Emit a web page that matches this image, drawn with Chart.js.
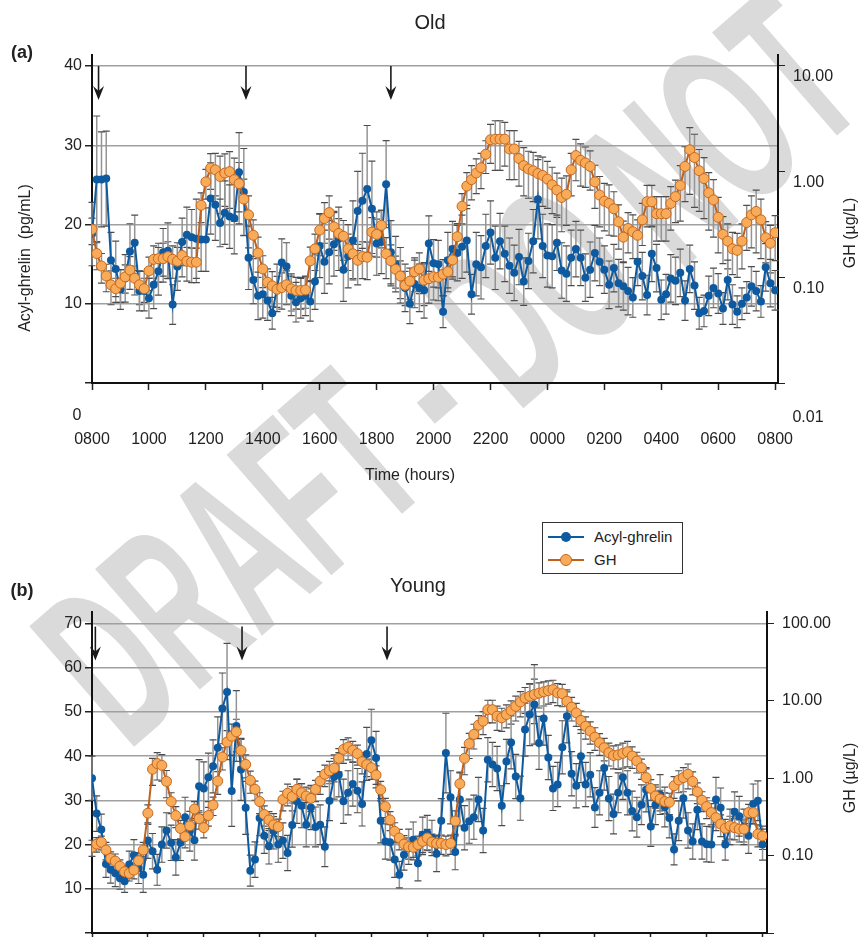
<!DOCTYPE html>
<html>
<head>
<meta charset="utf-8">
<script src="https://cdn.jsdelivr.net/npm/chart.js@4.4.1/dist/chart.umd.min.js"></script>
<style>
  body { margin: 0; width: 861px; height: 937px; overflow: hidden; background: #fff; position: relative;
         font-family: 'Liberation Sans', Arial, sans-serif; color: #222; }
  .c { position: absolute; transform: translate(-50%, -50%); white-space: nowrap; z-index: 2; }
  .v { position: absolute; transform: translate(-50%, -50%) rotate(-90deg); white-space: nowrap; z-index: 2; font-size: 16px; }
  .panel { position: absolute; left: 0; z-index: 1; }
  #wm { position: absolute; left: 0; top: 0; z-index: 0; }
  #legend { position: absolute; left: 542px; top: 522px; width: 139px; height: 50px; border: 1px solid #333;
            background: #fff; z-index: 2; font-size: 15px; }
  .row { position: absolute; left: 5px; width: 130px; height: 20px; white-space: nowrap; }
  .row .ln { position: absolute; left: 0; top: 9px; width: 36px; height: 2px; }
  .row .dot { position: absolute; border-radius: 50%; }
  .row span { position: absolute; left: 46px; top: 1px; }
</style>
</head>
<body>
<svg id="wm" width="861" height="937">
  <text transform="translate(128,752) rotate(-41) scale(0.52,1)" font-family="Liberation Sans, Arial, sans-serif"
        font-weight="bold" font-size="232" fill="#dadada">DRAFT - DO NOT</text>
</svg>

<div class="c" style="left:430px; top:22px; font-size:20px;">Old</div>
<div class="c" style="left:22px; top:52px; font-size:18px; font-weight:bold;">(a)</div>
<div class="v" style="left:25px; top:258px;">Acyl-ghrelin&nbsp;&nbsp;(pg/mL)</div>
<div class="v" style="left:850px; top:233px;">GH (µg/L)</div>
<div class="c" style="left:77px; top:415px; font-size:16px;">0</div>
<div class="c" style="left:808px; top:417px; font-size:16px;">0.01</div>
<div class="c" style="left:410px; top:475px; font-size:16px;">Time (hours)</div>

<div id="legend">
  <div class="row" style="top:4px;"><div class="ln" style="background:#0e5aa0"></div>
    <div class="dot" style="left:13px; top:5px; width:10px; height:10px; background:#0e5aa0"></div><span>Acyl-ghrelin</span></div>
  <div class="row" style="top:27px;"><div class="ln" style="background:#c0601b"></div>
    <div class="dot" style="left:12px; top:4px; width:10px; height:10px; background:#f8ab58; border:1px solid #c8671e"></div><span>GH</span></div>
</div>

<div class="c" style="left:418px; top:585px; font-size:20px;">Young</div>
<div class="c" style="left:22px; top:590px; font-size:18px; font-weight:bold;">(b)</div>
<div class="v" style="left:850px; top:778px;">GH (µg/L)</div>

<div class="panel" style="top:0;"><canvas id="chartA" width="861" height="470"></canvas></div>
<div class="panel" style="top:560px;"><canvas id="chartB" width="861" height="430"></canvas></div>

<script>
// sampling every 10 min, hours after 0800
const times = Array.from({ length: 145 }, (_, i) => i / 6);
const tickHours = [0, 2, 4, 6, 8, 10, 12, 14, 16, 18, 20, 22, 24];
const tickLabels = ['0800', '1000', '1200', '1400', '1600', '1800', '2000', '2200', '0000', '0200', '0400', '0600', '0800'];
const mealsOld = [0.23, 5.41, 10.5];
const mealsYoung = [0.12, 5.37, 10.56];

// (a) Old - acyl-ghrelin pg/mL
const ghrelinOld = [
  18.8, 25.7, 25.7, 25.8, 15.5, 14.4, 11.8, 13.2, 16.6, 17.7,
  11.6, 11.6, 10.7, 12.4, 14.1, 16.5, 16.7, 9.9, 14.7, 17.8,
  18.7, 18.4, 18.2, 18.1, 18.1, 23.3, 22.5, 20.2, 21.5, 21.0,
  20.8, 26.6, 24.1, 15.8, 13.0, 11.0, 11.2, 10.4, 8.8, 12.0,
  15.2, 14.7, 11.0, 10.2, 10.7, 11.0, 10.3, 12.8, 17.3, 15.3,
  16.5, 17.5, 18.2, 14.3, 16.0, 18.0, 21.7, 23.0, 24.5, 22.0,
  17.6, 17.8, 25.1, 16.5, 15.0, 13.6, 12.0, 10.0, 12.5, 12.0,
  11.7, 17.6, 15.1, 15.0, 9.0, 15.5, 16.9, 16.4, 17.2, 18.0,
  11.2, 15.0, 14.6, 17.3, 19.0, 15.8, 17.9, 16.3, 14.8, 13.9,
  15.9, 12.8, 15.4, 17.9, 23.2, 17.3, 16.1, 16.0, 17.7, 14.2,
  13.8, 15.8, 16.9, 15.8, 13.3, 14.3, 16.4, 15.3, 14.3, 12.4,
  14.5, 12.6, 12.2, 11.6, 10.8, 15.3, 13.5, 11.1, 16.3, 14.5,
  10.5, 11.2, 13.2, 12.9, 13.9, 10.4, 14.4, 12.3, 8.8, 9.1,
  11.0, 12.0, 11.3, 9.4, 13.0, 9.9, 9.0, 10.0, 10.8, 12.2,
  11.6, 10.3, 14.6, 12.6, 11.7
];
const ghrelinOldErr = [
  4, 8, 6, 6, 3.5, 3.5, 2.5, 3, 3.5, 3.5,
  2.5, 2.5, 2.5, 3, 3, 3, 3.5, 2.5, 3, 3,
  3.5, 3.5, 5, 4, 4, 4.5, 4.5, 3, 4, 4,
  4.5, 5, 5.5, 4, 3, 3, 3, 2.5, 2, 3,
  3, 3, 2.5, 2.5, 2.5, 2.5, 2.5, 3.5, 4, 4,
  4, 4, 4, 4, 4, 5, 5, 6, 8, 6,
  4, 4, 5.5, 4, 3.5, 3.5, 3, 2.5, 3, 3,
  3.5, 3.5, 3, 3, 2, 3.5, 3.5, 3.5, 4, 4,
  2.5, 4, 4, 4, 4, 4, 3.5, 3.5, 3.5, 3.5,
  3.5, 3, 3.5, 4, 5, 4, 4, 4, 3.5, 3.5,
  3.5, 3.5, 3.5, 3.5, 3, 3.5, 3.5, 3, 3, 3,
  3, 3, 3, 3, 2.5, 3, 3, 2.5, 3.5, 3,
  2.5, 2.5, 3, 3, 3, 2.5, 3, 3, 2, 2,
  2.5, 2.5, 2.5, 2, 2.5, 2.5, 2, 2, 2, 2.5,
  2.5, 2, 3, 3, 2.5
];
// (a) Old - GH ug/L
const ghOld = [
  0.284, 0.168, 0.128, 0.103, 0.085, 0.078, 0.088, 0.101, 0.117, 0.098,
  0.085, 0.078, 0.115, 0.148, 0.150, 0.150, 0.157, 0.148, 0.142, 0.161,
  0.142, 0.139, 0.139, 0.48, 0.80, 1.08, 1.04, 0.90, 0.97, 1.00,
  0.84, 0.77, 0.55, 0.39, 0.25, 0.17, 0.12, 0.09, 0.083, 0.077,
  0.080, 0.085, 0.078, 0.075, 0.075, 0.076, 0.143, 0.186, 0.28, 0.36,
  0.41, 0.30, 0.26, 0.245, 0.186, 0.167, 0.145, 0.157, 0.155, 0.268,
  0.255, 0.31, 0.167, 0.143, 0.119, 0.103, 0.084, 0.092, 0.113, 0.12,
  0.094, 0.097, 0.101, 0.10, 0.107, 0.113, 0.146, 0.242, 0.47, 0.73,
  0.84, 0.97, 1.09, 1.46, 2.0, 2.03, 2.03, 2.03, 1.64, 1.64,
  1.33, 1.14, 1.06, 1.02, 0.96, 0.92, 0.85, 0.75, 0.67, 0.57,
  0.61, 1.04, 1.42, 1.28, 1.21, 1.12, 0.80, 0.60, 0.525, 0.50,
  0.445, 0.335, 0.24, 0.29, 0.27, 0.25, 0.35, 0.52, 0.52, 0.40,
  0.40, 0.40, 0.50, 0.58, 0.74, 1.12, 1.61, 1.36, 1.02, 0.86,
  0.63, 0.54, 0.37, 0.255, 0.22, 0.186, 0.18, 0.22, 0.33, 0.39,
  0.42, 0.35, 0.237, 0.21, 0.264
];
const ghOldErr = [
  0.08, 0.05, 0.04, 0.03, 0.03, 0.02, 0.03, 0.03, 0.04, 0.03,
  0.03, 0.02, 0.04, 0.05, 0.06, 0.06, 0.06, 0.05, 0.05, 0.06,
  0.05, 0.05, 0.05, 0.15, 0.25, 0.4, 0.45, 0.5, 0.5, 0.55,
  0.5, 0.45, 0.3, 0.2, 0.1, 0.07, 0.04, 0.03, 0.03, 0.025,
  0.03, 0.03, 0.03, 0.025, 0.025, 0.025, 0.05, 0.07, 0.12, 0.15,
  0.18, 0.12, 0.1, 0.1, 0.07, 0.07, 0.06, 0.06, 0.06, 0.1,
  0.1, 0.12, 0.07, 0.06, 0.04, 0.04, 0.03, 0.03, 0.04, 0.05,
  0.04, 0.04, 0.04, 0.04, 0.04, 0.04, 0.05, 0.08, 0.15, 0.25,
  0.3, 0.35, 0.4, 0.5, 0.8, 1.0, 1.0, 0.9, 0.8, 0.8,
  0.6, 0.55, 0.5, 0.5, 0.45, 0.45, 0.4, 0.35, 0.3, 0.3,
  0.3, 0.45, 0.6, 0.55, 0.5, 0.45, 0.35, 0.3, 0.25, 0.25,
  0.2, 0.15, 0.1, 0.12, 0.12, 0.1, 0.15, 0.22, 0.22, 0.18,
  0.18, 0.18, 0.22, 0.25, 0.4, 0.6, 1.0, 0.9, 0.6, 0.5,
  0.35, 0.3, 0.2, 0.12, 0.1, 0.08, 0.08, 0.1, 0.15, 0.2,
  0.25, 0.2, 0.1, 0.1, 0.12
];

// (b) Young - acyl-ghrelin pg/mL
const ghrelinYoung = [
  35.0, 27.0, 23.4, 15.6, 14.3, 13.5, 12.4, 11.7, 15.5, 17.6,
  14.7, 13.2, 20.9, 18.5, 14.3, 20.0, 23.2, 20.4, 17.1, 20.4,
  26.2, 23.0, 21.0, 33.2, 32.7, 35.2, 37.7, 41.9, 50.8, 54.5,
  32.1, 46.8, 37.0, 28.3, 14.1, 16.6, 26.0, 22.0, 19.6, 23.0,
  20.0, 20.9, 18.1, 24.4, 29.8, 28.8, 24.5, 28.4, 24.0, 24.5,
  19.5, 29.9, 35.3, 35.8, 29.8, 31.7, 33.7, 32.2, 29.2, 40.5,
  43.6, 39.6, 25.4, 20.7, 20.5, 16.6, 13.2, 17.7, 19.5, 21.1,
  15.8, 22.2, 22.6, 21.5, 17.9, 25.4, 40.7, 30.7, 18.3, 30.2,
  23.8, 25.3, 26.2, 30.2, 23.2, 39.2, 38.1, 37.2, 28.8, 38.8,
  43.1, 35.4, 30.5, 46.0, 49.4, 51.7, 43.0, 48.5, 39.7, 32.7,
  33.6, 42.0, 49.0, 36.0, 33.3, 40.0, 33.6, 35.8, 28.4, 31.7,
  37.3, 30.4, 26.9, 31.7, 35.2, 31.7, 27.6, 26.2, 29.0, 32.4,
  24.1, 29.0, 31.3, 28.5, 26.0, 18.9, 25.4, 30.5, 23.2, 20.7,
  27.9, 20.7, 20.1, 20.0, 30.2, 28.3, 20.0, 24.0, 27.4, 26.4,
  24.0, 22.0, 29.2, 29.9, 20.0
];
const ghrelinYoungErr = [
  5, 4, 3.5, 3, 3, 3, 2.5, 2.5, 3, 3.5,
  3.5, 4, 4, 4, 3.5, 4, 4, 4, 4, 4,
  4.5, 4.5, 4.5, 6, 6, 5.5, 6, 7, 8, 11,
  8, 8, 7, 6, 3.5, 4, 4, 4, 4, 4,
  4, 4, 4, 5, 5, 5, 5, 5, 4.5, 4.5,
  4.5, 4.5, 5, 5, 5, 5, 5, 5, 5, 6,
  7, 6, 5, 4, 4, 4, 3, 3.5, 4, 4,
  4, 4, 4, 4, 4, 5, 9, 6, 4, 6,
  5, 5, 5, 5, 5, 5, 5, 5, 4.5, 5,
  6, 5, 5, 6, 7, 9, 6, 6, 5, 5,
  5, 6, 6, 5, 5, 6, 5, 5, 4.5, 5,
  5, 5, 4.5, 4.5, 5, 5, 4.5, 4.5, 4.5, 5,
  4.5, 4.5, 4.5, 4.5, 4.5, 3.5, 4.5, 4.5, 4, 4,
  4.5, 4, 4, 4, 5, 4.5, 3.5, 4, 4.5, 4.5,
  4, 4, 4.5, 4.5, 3.5
];
// (b) Young - GH ug/L
const ghYoung = [
  0.128, 0.141, 0.149, 0.118, 0.092, 0.085, 0.073, 0.062, 0.059, 0.065,
  0.086, 0.118, 0.354, 1.31, 1.55, 1.47, 0.91, 0.50, 0.33, 0.225,
  0.176, 0.243, 0.40, 0.30, 0.23, 0.33, 0.45, 0.92, 1.88, 2.94,
  3.5, 3.99, 2.29, 1.51, 0.94, 0.72, 0.50, 0.34, 0.29, 0.25,
  0.236, 0.53, 0.64, 0.58, 0.72, 0.65, 0.59, 0.55, 0.72, 0.92,
  1.13, 1.25, 1.35, 1.81, 2.36, 2.53, 2.3, 2.08, 1.64, 1.5,
  1.37, 1.10, 0.71, 0.43, 0.29, 0.206, 0.169, 0.141, 0.13, 0.128,
  0.139, 0.153, 0.169, 0.15, 0.144, 0.144, 0.139, 0.144, 0.28, 0.85,
  1.81, 2.8, 3.69, 4.86, 5.47, 7.7, 7.7, 6.35, 6.04, 6.67,
  7.5, 8.5, 9.7, 10.9, 11.5, 12.1, 12.6, 13.1, 13.6, 14.0,
  12.7, 12.4, 9.9, 8.3, 7.0, 5.6, 4.7, 4.07, 3.4, 2.88,
  2.48, 2.14, 1.97, 2.0, 2.1, 2.2, 1.94, 1.67, 1.37, 1.02,
  0.74, 0.59, 0.54, 0.50, 0.49, 0.80, 0.95, 1.02, 1.13, 0.91,
  0.67, 0.52, 0.43, 0.36, 0.31, 0.256, 0.225, 0.243, 0.23, 0.22,
  0.22, 0.36, 0.36, 0.19, 0.18
];
const ghYoungErr = [
  0.03, 0.03, 0.03, 0.03, 0.02, 0.02, 0.015, 0.012, 0.012, 0.015,
  0.02, 0.03, 0.1, 0.5, 0.6, 0.55, 0.35, 0.15, 0.1, 0.06,
  0.05, 0.06, 0.1, 0.08, 0.06, 0.09, 0.12, 0.3, 0.6, 1.2,
  1.5, 1.8, 0.9, 0.5, 0.3, 0.2, 0.15, 0.1, 0.08, 0.07,
  0.06, 0.15, 0.2, 0.2, 0.25, 0.2, 0.18, 0.18, 0.22, 0.3,
  0.35, 0.4, 0.45, 0.6, 0.8, 0.8, 0.7, 0.6, 0.5, 0.45,
  0.4, 0.35, 0.2, 0.12, 0.08, 0.06, 0.05, 0.04, 0.04, 0.04,
  0.04, 0.05, 0.05, 0.04, 0.04, 0.04, 0.04, 0.04, 0.1, 0.35,
  0.7, 1.0, 1.3, 1.6, 1.8, 2.5, 2.5, 2.2, 2.0, 2.2,
  2.5, 3.0, 3.5, 4.0, 5.0, 7.0, 4.5, 4.5, 4.5, 4.5,
  4.0, 4.0, 3.2, 2.8, 2.3, 1.8, 1.5, 1.3, 1.1, 0.9,
  0.8, 0.7, 0.65, 0.7, 0.75, 0.8, 0.6, 0.5, 0.4, 0.3,
  0.22, 0.18, 0.16, 0.15, 0.15, 0.25, 0.3, 0.35, 0.4, 0.3,
  0.2, 0.15, 0.13, 0.11, 0.1, 0.08, 0.07, 0.08, 0.07, 0.07,
  0.07, 0.1, 0.1, 0.06, 0.06
];

const BLUE = '#0e5aa0';
const ORANGE_LINE = '#c0601b';
const ORANGE_FILL = '#f8ab58';
const ORANGE_EDGE = '#c8671e';

Chart.defaults.font.family = "'Liberation Sans', Arial, sans-serif";
Chart.defaults.font.size = 16;
Chart.defaults.color = '#222';

const errorBars = {
  id: 'errorBars',
  beforeDatasetsDraw(chart) {
    const ctx = chart.ctx;
    const xs = chart.scales.x;
    chart.data.datasets.forEach(ds => {
      const ys = chart.scales[ds.yAxisID];
      ctx.save();
      ds.data.forEach((p, i) => {
        const e = ds.errors[i];
        const x = xs.getPixelForValue(p.x);
        const yHi = ys.getPixelForValue(p.y + e);
        const yLo = ys.getPixelForValue(Math.max(p.y - e, ys.min));
        ctx.strokeStyle = '#949494';
        ctx.lineWidth = 1.5;
        ctx.beginPath();
        ctx.moveTo(x, yHi);
        ctx.lineTo(x, yLo);
        ctx.stroke();
        ctx.strokeStyle = '#4d4d4d';
        ctx.lineWidth = 1.2;
        ctx.beginPath();
        ctx.moveTo(x - 3.5, yHi); ctx.lineTo(x + 3.5, yHi);
        ctx.moveTo(x - 3.5, yLo); ctx.lineTo(x + 3.5, yLo);
        ctx.stroke();
      });
      ctx.restore();
    });
  }
};

const arrows = {
  id: 'arrows',
  afterDatasetsDraw(chart, args, opts) {
    const { ctx, scales } = chart;
    const top = scales.yL.getPixelForValue(opts.from);
    const tip = top + opts.len;
    ctx.save();
    ctx.strokeStyle = '#1a1a1a';
    ctx.fillStyle = '#1a1a1a';
    ctx.lineWidth = 1.6;
    opts.times.forEach(t => {
      const px = scales.x.getPixelForValue(t);
      ctx.beginPath();
      ctx.moveTo(px, top);
      ctx.lineTo(px, tip - 8);
      ctx.stroke();
      ctx.beginPath();
      ctx.moveTo(px - 5.5, tip - 14);
      ctx.lineTo(px, tip);
      ctx.lineTo(px + 5.5, tip - 14);
      ctx.lineTo(px, tip - 9);
      ctx.closePath();
      ctx.fill();
    });
    ctx.restore();
  }
};

function pts(values) {
  return values.map((v, i) => ({ x: times[i], y: v }));
}

function makeChart(id, p) {
  return new Chart(document.getElementById(id), {
    type: 'line',
    data: {
      datasets: [{
        label: 'GH',
        data: pts(p.gh),
        errors: p.ghErr,
        yAxisID: 'yR',
        borderColor: ORANGE_LINE,
        borderWidth: 2,
        pointRadius: 5,
        pointBackgroundColor: ORANGE_FILL,
        pointBorderColor: ORANGE_EDGE,
        pointBorderWidth: 1,
        tension: 0
      }, {
        label: 'Acyl-ghrelin',
        data: pts(p.ghrelin),
        errors: p.ghrelinErr,
        yAxisID: 'yL',
        borderColor: BLUE,
        borderWidth: 2,
        pointRadius: 4,
        pointBackgroundColor: BLUE,
        pointBorderColor: BLUE,
        pointBorderWidth: 0,
        tension: 0
      }]
    },
    options: {
      responsive: false,
      animation: false,
      layout: { padding: { top: p.top, left: 0, right: 0, bottom: 0 } },
      plugins: {
        legend: { display: false },
        tooltip: { enabled: false },
        arrows: { times: p.meals, from: p.arrowFrom, len: 34 }
      },
      scales: {
        x: {
          type: 'linear',
          min: 0,
          max: p.xMax,
          afterBuildTicks: s => { s.ticks = tickHours.map(v => ({ value: v })); },
          ticks: { callback: (v, i) => tickLabels[i], padding: 40, maxRotation: 0, autoSkip: false },
          grid: { drawOnChartArea: false, tickLength: 7, tickColor: '#222', tickWidth: 1.5 },
          border: { color: '#111', width: 2 },
          afterFit: s => { s.height = p.xHeight; }
        },
        yL: {
          type: 'linear',
          position: 'left',
          min: 0,
          max: p.leftMax,
          afterBuildTicks: s => { s.ticks = p.leftTicks.map(v => ({ value: v })); },
          ticks: { callback: v => (v === 0 ? '' : v), padding: 3 },
          grid: { color: '#a0a0a0', lineWidth: 1.5, tickLength: 7, tickColor: '#222' },
          border: { color: '#111', width: 2 },
          afterFit: s => { s.width = 92; }
        },
        yR: {
          type: 'logarithmic',
          position: 'right',
          min: 0.01,
          max: p.rightMax,
          afterBuildTicks: s => { s.ticks = p.rightTicks.map(v => ({ value: v })); },
          ticks: { callback: v => (v === 0.01 ? '' : v.toFixed(2)), padding: 8, labelOffset: p.rightOffset },
          grid: { drawOnChartArea: false, tickLength: 7, tickColor: '#222' },
          border: { color: '#111', width: 2 },
          afterFit: s => { s.width = p.rightWidth; }
        }
      }
    },
    plugins: [errorBars, arrows]
  });
}

makeChart('chartA', {
  gh: ghOld, ghErr: ghOldErr, ghrelin: ghrelinOld, ghrelinErr: ghrelinOldErr,
  meals: mealsOld, arrowFrom: 40,
  top: 55, xHeight: 87, xMax: 24.1,
  leftMax: 41.4, leftTicks: [0, 10, 20, 30, 40],
  rightMax: 12.7, rightTicks: [0.01, 0.1, 1, 10], rightOffset: 11, rightWidth: 83
});

makeChart('chartB', {
  gh: ghYoung, ghErr: ghYoungErr, ghrelin: ghrelinYoung, ghrelinErr: ghrelinYoungErr,
  meals: mealsYoung, arrowFrom: 69.3,
  top: 52, xHeight: 57, xMax: 24.16,
  leftMax: 72.6, leftTicks: [0, 10, 20, 30, 40, 50, 60, 70],
  rightMax: 141, rightTicks: [0.01, 0.1, 1, 10, 100], rightOffset: 0, rightWidth: 94
});
</script>
</body>
</html>
